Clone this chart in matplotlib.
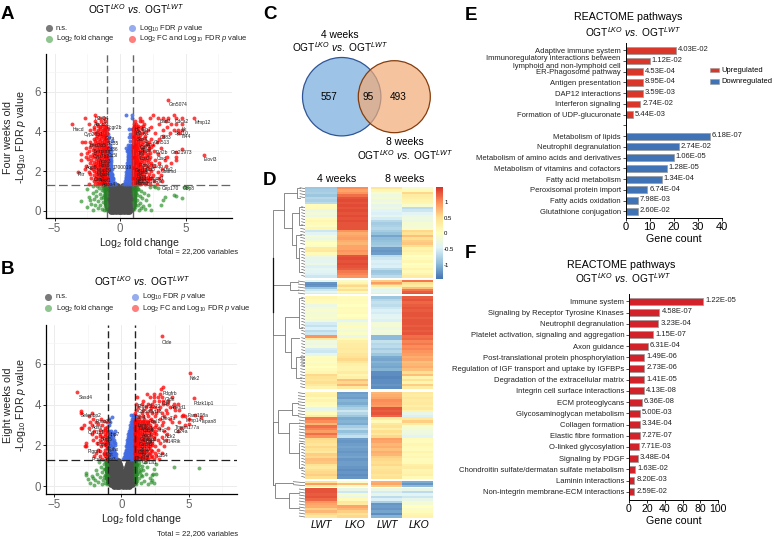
import numpy as np
import matplotlib
matplotlib.use('Agg')
import matplotlib.pyplot as plt
from matplotlib.colors import LinearSegmentedColormap
from matplotlib.patches import Circle

plt.rcParams['font.family'] = ['Liberation Sans', 'DejaVu Sans']
plt.rcParams['mathtext.fontset'] = 'custom'
plt.rcParams['mathtext.rm'] = 'Liberation Sans'
plt.rcParams['mathtext.it'] = 'Liberation Sans:italic'
plt.rcParams['mathtext.bf'] = 'Liberation Sans:bold'

W, H = 774, 539
OGT = r'OGT$^{\mathit{LKO}}$ $\mathit{vs.}$ OGT$^{\mathit{LWT}}$'

# --- volcano A (y levels, and the x of the points on each level)
a_grey_y = [0.0, 0.08, 0.2, 0.35, 0.5, 0.65, 0.8, 0.95, 1.1, 1.25]
a_grey_x = [[-.7, -.5, -.3, -.1, .1, .3, .5, .7],
            [-.85, -.6, -.35, -.15, .15, .35, .6, .85],
            [-.95, -.75, -.5, -.25, 0, .25, .5, .75, .95],
            [-.97, -.75, -.5, -.25, 0, .25, .5, .75, .97],
            [-.97, -.75, -.5, -.25, 0, .25, .5, .75, .97],
            [-.97, -.75, -.5, -.25, 0, .25, .5, .75, .97],
            [-.97, -.75, -.5, -.28, -.12, .12, .28, .5, .75, .97],
            [-.97, -.75, -.5, -.3, -.12, .12, .3, .5, .75, .97],
            [-.97, -.75, -.55, -.35, -.15, .15, .35, .55, .75, .97],
            [-.97, -.75, -.55, -.38, -.2, .2, .38, .55, .75, .97]]

a_blue_y = [1.35, 1.42, 1.5, 1.58, 1.65, 1.72, 1.8, 1.87, 1.95, 2.02, 2.1, 2.17, 2.25, 2.32, 2.4, 2.47, 2.55, 2.62, 2.7, 2.78,
            2.85, 2.92, 3.0, 3.07, 3.15, 3.22, 3.3, 3.5, 3.7, 3.85, 4.1, 4.65, 4.8]
a_blue_x = [[-.95, -.8, -.65, -.5, -.35, .33, .45, .6, .75, .9],
            [-.9, -.72, -.58, -.42, .36, .52, .68, .82, .97],
            [-.95, -.8, -.65, -.5, .38, .5, .65, .8, .95],
            [-.88, -.7, -.56, .42, .58, .72, .88],
            [-.95, -.8, -.68, -.55, .42, .55, .7, .85, .97],
            [-.85, -.72, -.6, .48, .62, .78, .92],
            [-.92, -.78, -.62, .45, .58, .72, .88],
            [-.97, -.7, -.58, .5, .65, .8, .95],
            [-.95, -.82, -.68, .48, .6, .75, .9],
            [-.88, -.74, .52, .68, .84, .98],
            [-.9, -.75, -.62, .5, .62, .78, .95],
            [-.96, -.68, .55, .7, .86],
            [-.95, -.8, -.68, .52, .65, .8, .93],
            [-.86, -.72, .58, .74, .9],
            [-.92, -.78, .55, .68, .82, .97],
            [-.84, -.68, .6, .76, .92],
            [-.95, -.8, -.66, .58, .7, .85, .95],
            [-.88, .62, .78, .92],
            [-.9, -.72, .58, .72, .88],
            [-.96, -.78, .64, .8, .95],
            [-.95, -.75, .6, .75, .9],
            [-.84, .66, .82, .96],
            [-.85, -.65, .5, .62, .78, .92],
            [-.92, .6, .74, .88],
            [-.92, -.7, .45, .65, .82],
            [-.82, .68, .9],
            [-.8, .6, .78, .95],
            [-.9, -.6, .8],
            [-.85, .7, .9],
            [-.95, .75],
            [-.9, .7, .95],
            [.95],
            [.48, .95]]

a_green = [(-3.0, .5), (-2.5, .2), (-2.4, .7), (-2.3, .55), (-2.2, .35), (-2.1, .05), (-2.05, .9), (-2.0, .6),
           (-1.9, .3), (-1.85, 1.0), (-1.8, .75), (-1.7, .15), (-1.65, .5), (-1.6, 1.15), (-1.55, .85), (-1.5, .3),
           (-1.45, .65), (-1.4, 1.05), (-1.35, .1), (-1.3, .45), (-1.25, .8), (-1.2, 1.2), (-1.15, .25), (-1.12, .6),
           (-1.08, .95), (-1.05, .4), (-1.04, .15), (-1.03, .75), (-1.02, 1.1), (-1.25, 1.0), (-1.15, .75), (-1.1, .5),
           (-2.5, 1.1), (-2.1, 1.25), (-1.75, 1.25), (-1.4, 1.25), (-1.1, 1.25), (-1.2, .05), (-1.1, .05),
           (-1.03, .3), (-1.05, .58), (-1.03, .9), (-1.05, 1.2), (-1.15, .4), (-1.18, .9), (-1.15, 1.1), (-1.3, .7), (-1.3, 1.15),
           (1.02, 1.2), (1.03, .9), (1.04, .6), (1.05, .3), (1.06, .1), (1.1, 1.1), (1.12, .75), (1.15, .45),
           (1.18, .2), (1.22, 1.2), (1.25, .9), (1.3, .55), (1.35, .3), (1.4, 1.1), (1.45, .05), (1.5, .75),
           (1.55, .4), (1.6, 1.0), (1.7, .65), (1.75, .25), (1.85, .9), (1.9, .1), (2.0, .55), (2.1, .8),
           (2.2, .3), (2.3, 1.2), (2.4, .05), (2.6, 1.25), (2.7, 1.2), (2.9, 1.15), (3.1, .3), (3.3, .55),
           (3.4, .7), (4.1, .8), (4.3, .75), (4.7, .65), (4.9, 1.2), (5.1, 1.2), (1.15, 1.0), (1.3, 1.25), (1.6, .15),
           (1.03, .45), (1.05, .75), (1.03, 1.05), (1.12, .3), (1.12, .9), (1.18, .6), (1.2, 1.05), (1.3, .8), (1.35, 1.1)]

a_red_y = [1.35, 1.5, 1.65, 1.8, 1.95, 2.1, 2.25, 2.4, 2.55, 2.7, 2.85, 3.0, 3.15, 3.3, 3.45, 3.6, 3.75, 3.9, 4.05, 4.2, 4.35, 4.5, 4.65, 4.8]
a_red_x = [[-2.4, -1.9, -1.6, -1.35, -1.15, -1.03, 1.05, 1.3, 1.55, 1.9, 2.3, 2.8],
           [-2.0, -1.75, -1.45, -1.2, -1.05, 1.05, 1.25, 1.45, 1.7, 2.1, 2.6, 3.2],
           [-2.2, -1.7, -1.4, -1.25, -1.1, 1.1, 1.35, 1.6, 1.95, 2.4, 3.0],
           [-1.95, -1.6, -1.4, -1.2, -1.05, 1.05, 1.2, 1.5, 1.8, 2.5, 3.1],
           [-3.2, -2.4, -1.8, -1.5, -1.25, -1.05, 1.1, 1.3, 1.65, 2.0, 2.9],
           [-2.7, -2.1, -1.7, -1.4, -1.15, -1.03, 1.05, 1.25, 1.5, 1.85, 2.3, 3.2],
           [-2.6, -1.9, -1.6, -1.3, -1.1, 1.1, 1.35, 1.6, 2.1, 2.6, 3.5],
           [-2.3, -1.8, -1.5, -1.2, -1.05, 1.05, 1.2, 1.45, 1.8, 2.4, 3.0, 3.9],
           [-3.0, -2.2, -1.7, -1.4, -1.1, 1.1, 1.3, 1.65, 2.0, 2.7, 3.4, 4.3],
           [-2.6, -2.1, -1.6, -1.3, -1.05, 1.05, 1.25, 1.5, 1.9, 2.3, 3.6],
           [-3.0, -2.1, -1.75, -1.45, -1.15, 1.1, 1.35, 1.7, 2.1, 2.9],
           [-2.4, -1.9, -1.5, -1.2, -1.03, 1.03, 1.2, 1.5, 1.85, 2.6],
           [-2.6, -2.0, -1.6, -1.3, -1.1, 1.1, 1.3, 1.65, 2.2, 3.1],
           [-2.2, -1.8, -1.45, -1.15, 1.05, 1.25, 1.5, 1.95, 2.5],
           [-2.9, -2.7, -2.3, -1.75, -1.35, -1.1, 1.1, 1.4, 1.75, 2.2, 2.8],
           [-1.95, -1.6, -1.25, -1.05, 1.05, 1.3, 1.6, 2.4, 3.0],
           [-1.75, -1.4, -1.15, 1.1, 1.4, 1.9, 3.3],
           [-1.9, -1.5, -1.2, -1.03, 1.05, 1.25, 1.7, 2.7, 3.8, 4.5],
           [-2.3, -1.7, -1.3, -1.1, 1.1, 1.4, 2.1, 3.3, 4.1, 4.4, 4.75],
           [-2.0, -1.5, -1.15, 1.05, 1.3, 1.6, 2.4, 3.6],
           [-3.7, -2.4, -1.75, -1.3, 1.05, 1.2, 1.85, 3.0, 3.9, 4.25, 4.7],
           [-1.9, -1.45, -1.15, 1.15, 1.5, 1.7, 3.5],
           [-2.7, -1.5, -1.2, 1.5, 2.3, 2.9, 3.3, 3.7, 4.3, 4.75, 5.65],
           [-1.9, 2.5, 4.1]]
a_red2_y = [1.42, 1.58, 1.72, 1.87, 2.02, 2.17, 2.32, 2.47, 2.62, 2.78, 2.92, 3.07, 3.22, 3.38, 3.52, 3.67, 3.82, 3.97, 4.12, 4.28]
a_red2_x = [[-1.7, -1.48, -1.28, -1.12, -1.02, 1.02, 1.15, 1.32, 1.48, 1.68, 2.0],
            [-1.9, -1.55, -1.32, -1.15, -1.02, 1.02, 1.18, 1.38, 1.58, 1.82, 2.25],
            [-1.82, -1.52, -1.3, -1.12, -1.02, 1.03, 1.2, 1.42, 1.72, 2.1],
            [-2.3, -1.72, -1.48, -1.28, -1.12, 1.02, 1.14, 1.34, 1.62, 2.2],
            [-1.95, -1.6, -1.38, -1.15, -1.02, 1.02, 1.2, 1.48, 1.78, 2.4],
            [-2.2, -1.85, -1.55, -1.25, -1.08, 1.03, 1.16, 1.4, 1.68, 2.05],
            [-2.1, -1.75, -1.42, -1.2, -1.03, 1.02, 1.22, 1.48, 1.88, 2.4],
            [-2.0, -1.65, -1.35, -1.12, -1.02, 1.03, 1.15, 1.35, 1.62, 2.1],
            [-2.45, -1.85, -1.55, -1.25, -1.03, 1.02, 1.2, 1.45, 1.8, 2.2],
            [-2.3, -1.85, -1.48, -1.18, -1.02, 1.02, 1.15, 1.4, 1.7, 2.05],
            [-2.5, -1.9, -1.6, -1.28, -1.05, 1.03, 1.22, 1.55, 1.9, 2.3],
            [-2.1, -1.7, -1.38, -1.12, -1.02, 1.02, 1.12, 1.38, 1.7, 2.1],
            [-2.3, -1.78, -1.45, -1.2, -1.03, 1.03, 1.2, 1.45, 1.8, 2.4],
            [-1.98, -1.62, -1.3, -1.1, 1.02, 1.15, 1.38, 1.7, 2.1],
            [-1.9, -1.5, -1.22, -1.03, 1.03, 1.22, 1.55, 1.95],
            [-1.85, -1.45, -1.15, 1.02, 1.18, 1.45, 1.8],
            [-1.6, -1.28, -1.05, 1.03, 1.25, 1.55],
            [-1.75, -1.35, -1.1, 1.02, 1.15, 1.45, 1.9],
            [-1.95, -1.55, -1.22, -1.03, 1.03, 1.22, 1.65],
            [-1.65, -1.38, -1.08, 1.05, 1.35, 1.78]]
a_red_pts = [(3.64, 5.58), (6.4, 2.8), (4.7, 3.1), (4.3, 2.7), (4.3, 2.95)]

a_labels = [('Gm5074', 3.7, 5.35), ('Mmp12', 5.7, 4.45), ('Elovl3', 6.4, 2.58), ('Hacd', -3.6, 4.1), ('Pltr', -3.2, 1.8),
            ('Cdca2', 4.2, 4.5), ('Batf3', 3.0, 4.5), ('Itk', 4.7, 4.1), ('Sp110', 4.2, 3.9), ('Ifi44', 4.7, 3.75),
            ('Cd83', 3.0, 3.7), ('Gm21973', 3.9, 2.95), ('Evi2b', 2.75, 2.95), ('Gm513', 2.6, 3.45), ('Ctsd', 2.8, 2.65),
            ('Lrp2', 3.3, 2.1), ('Gsdmd', 3.1, 1.95), ('Cep170', 3.2, 1.1), ('Gbp8', 4.8, 1.1), ('Cyp26b1', -2.75, 3.85),
            ('Abcc3', -2.0, 4.35), ('H2-Q4', -1.9, 4.65), ('Slc35', -1.0, 3.4), ('Cd36', -1.0, 3.1), ('Acot3', -1.6, 2.5),
            ('Rps6', -1.6, 2.3), ('Aqp8', -2.6, 2.2), ('Mgat4', -1.8, 1.8), ('Acot1', -1.6, 1.5), ('Sox4', 1.3, 3.6),
            ('Cd74', 1.5, 3.2), ('Ptprc', 1.4, 2.3), ('Saa3', 1.3, 1.9), ('Cd44', 1.2, 1.55), ('Tnf', 1.4, 2.9),
            ('H2-Eb1', 1.1, 4.1), ('1700019', -.6, 2.2), ('Rbm3', 1.2, 1.35), ('Hmox1', 2.2, 1.6), ('Fcgr2b', -1.0, 4.2),
            ('Hsd3b5', -2.3, 3.3), ('Serpina', -2.0, 3.0), ('Cyp7b1', -2.1, 2.75), ('Mup19', -1.8, 2.05), ('Ces1', -2.0, 1.55),
            ('H2-K1', 1.2, 3.9), ('Sirpa', 1.6, 3.05), ('Lcn2', 1.5, 2.65), ('Ccl5', 2.0, 2.1), ('B2m', 1.3, 1.7),
            ('Gm10', 1.1, 2.05), ('Apoa4', -1.4, 1.3), ('Cd5l', -.9, 2.8), ('Gsta', -1.2, 3.65), ('Tap1', 1.9, 3.35),
            ('1110C19Rik', 1.3, 1.45), ('C1qb', 2.4, 2.25)]

# --- volcano B
b_grey_y = [0.0, 0.1, 0.22, 0.38, 0.52, 0.68, 0.82, 0.96, 1.1, 1.23]
b_grey_x = [[-.55, -.35, -.15, .15, .35, .55],
            [-.8, -.55, -.3, -.1, .15, .35, .6, .8],
            [-.95, -.72, -.5, -.25, 0, .25, .5, .72, .95],
            [-.97, -.75, -.5, -.25, 0, .25, .5, .75, .97],
            [-.97, -.75, -.5, -.25, 0, .25, .5, .75, .97],
            [-.97, -.75, -.5, -.25, -.05, .3, .5, .75, .97],
            [-.97, -.75, -.5, -.3, -.1, .38, .55, .75, .97],
            [-.97, -.75, -.55, -.35, -.12, .45, .6, .78, .97],
            [-.97, -.75, -.55, -.4, -.18, .5, .65, .8, .97],
            [-.97, -.75, -.6, -.45, -.22, .55, .7, .85, .97]]

b_blue_y = [1.35, 1.42, 1.5, 1.58, 1.65, 1.72, 1.8, 1.87, 1.95, 2.02, 2.1, 2.17, 2.25, 2.32, 2.4, 2.47, 2.55, 2.62, 2.7, 2.78,
            2.85, 2.92, 3.0, 3.07, 3.15, 3.22, 3.3, 3.4, 3.5]
b_blue_x = [[-.95, -.8, -.65, -.5, .15, .3, .45, .6, .75, .9],
            [-.85, -.6, -.38, .2, .36, .52, .68, .82, .97],
            [-.9, -.72, -.55, .25, .4, .55, .7, .85, .97],
            [-.95, -.62, -.42, .3, .46, .62, .78, .92],
            [-.95, -.78, -.62, -.45, .28, .42, .58, .72, .88],
            [-.84, -.55, .34, .5, .66, .82, .97],
            [-.88, -.7, -.52, .35, .48, .62, .78, .92],
            [-.96, -.6, .4, .56, .72, .88],
            [-.92, -.75, -.6, .38, .52, .68, .82, .97],
            [-.82, -.5, .44, .6, .76, .92],
            [-.85, -.65, -.5, .42, .55, .7, .85],
            [-.9, -.58, .48, .64, .8, .96],
            [-.95, -.7, -.55, .45, .6, .75, .9],
            [-.8, .52, .68, .84, .98],
            [-.8, -.62, .5, .62, .78, .95],
            [-.95, .58, .72, .88],
            [-.9, -.55, .52, .68, .82],
            [-.72, .6, .76, .92],
            [-.75, -.45, -.95, .6, .72, .88],
            [.66, .82, .96],
            [.62, .78, .92],
            [.7, .86],
            [-.9, .68, .82, .97],
            [.76, .9],
            [-.85, .72, .88],
            [.8, .94],
            [-.95, .8, .95],
            [-.7, .9],
            [.75, .9, 1.0]]

b_green = [(-2.6, .65), (-2.6, .55), (-2.5, .35), (-2.3, .15), (-2.2, .5), (-2.1, .42), (-2.05, .05), (-1.95, .3),
           (-1.9, .8), (-1.8, .62), (-1.7, .2), (-1.65, 1.2), (-1.6, .45), (-1.5, .95), (-1.45, .12), (-1.4, .7),
           (-1.35, .3), (-1.3, 1.1), (-1.25, .55), (-1.2, .85), (-1.18, .18), (-1.15, .4), (-1.1, 1.0), (-1.08, .68),
           (-1.05, 1.2), (-1.04, .25), (-1.03, .85), (-1.02, .5), (-1.2, 1.25), (-1.1, .1),
           (-1.03, 1.05), (-1.05, .7), (-1.03, .38), (-1.12, .55), (-1.15, .85), (-1.12, 1.15), (-1.3, .85), (-1.3, .45),
           (1.02, .3), (1.03, .6), (1.03, .9), (1.04, 1.2), (1.06, .12), (1.1, .45), (1.12, .75), (1.15, 1.05),
           (1.18, .25), (1.2, .58), (1.25, .9), (1.3, 1.2), (1.35, .38), (1.4, .7), (1.45, .15), (1.5, 1.0),
           (1.55, .5), (1.6, .8), (1.7, .25), (1.75, 1.2), (1.8, .6), (1.9, .95), (2.0, .1), (2.1, .4),
           (2.2, .2), (2.25, .3), (2.3, .55), (2.35, .62), (2.4, .18), (2.45, .85), (2.55, .6), (2.6, 1.1),
           (3.9, .93), (5.75, .87), (1.03, .45), (1.05, .75), (1.03, 1.05), (1.12, .3), (1.12, .9), (1.18, .6), (1.2, 1.1),
           (1.3, .75), (1.32, 1.05), (1.45, .85), (1.45, .55)]

b_red_y = [1.35, 1.5, 1.65, 1.8, 1.95, 2.1, 2.25, 2.4, 2.55, 2.7, 2.85, 3.0, 3.15, 3.3, 3.45, 3.6, 3.75, 3.9, 4.05, 4.2, 4.35, 4.5]
b_red_x = [[-1.4, -1.1, 1.05, 1.25, 1.5, 1.75, 2.0, 2.4, 2.8],
           [-2.0, -1.6, -1.2, 1.1, 1.35, 1.6, 1.9, 2.3, 2.6],
           [-1.9, -1.3, -1.05, 1.05, 1.25, 1.45, 1.7, 2.1, 2.5, 3.0],
           [-1.7, -1.2, 1.1, 1.3, 1.55, 1.85, 2.2, 2.7],
           [-2.7, -2.6, -1.5, -1.1, 1.05, 1.25, 1.5, 1.8, 2.1, 2.5, 3.2],
           [-2.6, -1.8, -1.3, -1.05, 1.1, 1.35, 1.6, 1.95, 2.3, 2.9],
           [-2.1, -1.55, -1.2, 1.05, 1.25, 1.5, 1.75, 2.15, 2.7, 3.3],
           [-1.9, -1.4, -1.1, 1.1, 1.35, 1.65, 2.0, 2.4, 3.0],
           [-2.2, -1.6, -1.2, 1.05, 1.3, 1.55, 1.85, 2.2, 2.6, 3.4],
           [-2.0, -1.35, -1.05, 1.1, 1.25, 1.5, 1.8, 2.1, 2.5, 3.2, 4.2],
           [-3.0, -2.9, -2.4, -1.2, 1.05, 1.35, 1.6, 1.9, 2.3, 2.8, 3.5, 4.4],
           [-2.8, -2.2, -1.4, 1.1, 1.3, 1.55, 1.8, 2.15, 2.6, 3.0, 4.7],
           [-2.3, -1.9, -1.1, 1.05, 1.25, 1.5, 1.75, 2.0, 2.4, 3.1, 3.8, 4.3],
           [-2.1, -1.5, 1.1, 1.35, 1.7, 2.2, 2.9, 3.6, 5.0],
           [-2.4, 1.3, 1.6, 2.0, 2.5, 3.2, 4.0, 4.5, 4.7],
           [-2.2, -3.0, 1.05, 1.5, 1.9, 2.3, 2.6, 3.4, 3.0],
           [1.1, 1.6, 2.1, 2.7, 3.3, 4.0, 4.3],
           [1.25, 1.8, 2.2, 2.5, 2.9, 3.6, 3.9],
           [1.1, 1.5, 2.0, 2.3, 3.1, 3.4, 3.9, 4.2],
           [1.6, 2.4, 2.8, 3.1, 3.5],
           [1.2, 2.1, 2.7, 2.4, 3.0, 3.8],
           [1.9, 2.4, 2.9]]
b_red2_y = [1.42, 1.58, 1.72, 1.87, 2.02, 2.17, 2.32, 2.47, 2.62, 2.78, 2.92, 3.07, 3.22]
b_red2_x = [[-1.03, 1.02, 1.15, 1.38, 1.62, 1.88, 2.2],
            [-1.3, -1.05, 1.02, 1.18, 1.42, 1.72, 2.05],
            [-1.6, 1.03, 1.2, 1.38, 1.6, 1.9, 2.3],
            [-1.05, 1.02, 1.14, 1.42, 1.7, 2.05],
            [-1.25, 1.02, 1.18, 1.4, 1.68, 1.95, 2.3],
            [-1.5, -1.03, 1.03, 1.22, 1.48, 1.78, 2.12],
            [-1.08, 1.02, 1.15, 1.38, 1.62, 1.98, 2.45],
            [-1.62, -1.25, 1.03, 1.22, 1.5, 1.82, 2.2],
            [-1.03, 1.02, 1.18, 1.42, 1.7, 2.05, 2.4],
            [-1.2, -1.55, 1.03, 1.15, 1.38, 1.65, 1.95, 2.3],
            [-1.05, 1.02, 1.22, 1.48, 1.78, 2.12, 2.5],
            [-1.7, 1.03, 1.18, 1.42, 1.68, 1.98],
            [-1.3, 1.02, 1.15, 1.38, 1.62, 1.9, 2.25]]
b_red_pts = [(3.0, 7.34), (5.07, 5.53), (5.37, 4.3), (5.89, 3.4), (3.09, 4.87), (2.96, 4.78), (-3.3, 4.6),
             (-3.03, 3.7), (5.5, 3.5), (5.0, 3.05), (4.6, 3.5)]

b_labels = [('Olde', 3.0, 7.05), ('Nrk2', 5.07, 5.28), ('Pdzk1ip1', 5.4, 4.05), ('Tspan8', 5.9, 3.15), ('Pdgfrb', 3.1, 4.55),
            ('Sasd4', -3.2, 4.35), ('Selenbp2', -3.0, 3.45), ('Cyp1b1', -2.5, 2.65), ('Adss', -2.2, 2.9), ('Fbxo31', -1.9, 3.15),
            ('Tmem177a', 4.0, 2.9), ('Cd24a', 3.9, 2.7), ('Dlec7a', 2.9, 3.3), ('Mmp14', 4.8, 3.2), ('Fam108a', 4.9, 3.45),
            ('Ankrd1', 3.7, 3.85), ('Gldn', 3.2, 4.25), ('Cd4', 3.0, 4.05), ('Ly22', 2.2, 3.9), ('Cd54', 2.6, 1.5),
            ('Tril14Rik', 3.0, 2.2), ('Gatm2', 1.3, 2.05), ('Ggnbp2', 1.4, 2.3), ('Apol', 1.5, 2.5), ('Cd34', 1.6, 2.75),
            ('Lsmc', 1.2, 3.0), ('Nck2', 3.2, 2.45), ('Fosl1', 2.0, 3.15), ('2610', 1.4, 1.8), ('Col1a1', 1.5, 1.15),
            ('Fos', 1.5, 1.5), ('Pcsk', -2.2, 1.3), ('Pigm1', -2.5, 1.7), ('Enpp4', -1.8, 2.05), ('Ephx', -1.0, 1.8),
            ('Ugt', -1.2, 1.55), ('Sfrp5', -1.5, 2.3), ('Mpp7', -1.0, 2.55), ('Ras4', 1.0, 3.35), ('Syt13', 2.1, 3.65),
            ('Ptger3', 1.2, 3.9), ('Lamc1', 1.3, 2.85), ('Cdh2', 1.2, 1.65), ('Mrc2', 2.6, 2.75), ('Bgn', 1.8, 2.2),
            ('Thbs2', 1.1, 1.35), ('Acot3', -1.3, 1.3), ('Col5a', 1.2, 3.65)]

# --- heatmap, rows of [LWT 4w, LKO 4w, LWT 8w, LKO 8w]
heat_block1 = [[-.9, 1.0, .4, -.1], [-.85, .85, .15, .1], [-.8, .95, -.1, .55], [-.9, 1.15, -.25, .3], [-.75, 1.3, -.15, .25],
               [-.8, 1.35, -.3, .2], [-.7, 1.3, -.2, .15], [.05, 1.35, -.35, -.1], [.1, 1.3, -.3, -.7], [-.3, 1.35, -.45, -.6],
               [-.2, 1.3, -.5, -.45], [-.3, 1.35, -.4, -.3], [.05, 1.3, -.55, -.25], [.15, 1.35, -.75, -.3], [.1, 1.3, -.85, -.15],
               [-.05, 1.3, -.8, -.2], [.15, 1.3, -.75, -.1], [-.6, .95, -.85, .55], [-.45, .8, -.95, .45], [-.2, .85, -1.15, .7],
               [-.3, .9, -1.0, .5], [-.15, .8, -.95, .6], [0, .75, -.9, .65], [-.05, .85, -.85, .5], [.3, .85, -1.2, .2],
               [.35, .95, -1.25, .25], [.1, .9, -1.2, .15], [-.3, 1.3, -.7, .0], [-.35, 1.35, -.6, .05], [-.4, 1.3, -.5, .15],
               [-.3, 1.35, -.55, .0], [-.5, 1.3, -.5, .05], [-.4, 1.25, -.7, .2], [-.45, 1.1, -.9, .1], [-.5, 1.05, -.85, .2],
               [-.6, .95, -.7, .3]]
heat_block2 = [[-.4, -.1, .6, 1.1], [-1.25, .15, .9, .5], [-1.3, .4, .7, .4], [-1.25, .55, .3, .3],
               [-.9, .25, -.25, .7], [-.6, .5, -.45, 1.1], [-.4, .1, -.35, 1.25], [-.55, .25, -.5, 1.3]]
heat_block3 = [[.15, .05, -.9, 1.25], [.1, .1, -.75, 1.3], [.05, .05, -.65, 1.2], [-.3, .0, -.7, 1.25], [-.2, .1, -.6, 1.3],
               [-.1, .05, -.5, 1.25], [-.2, .1, -.55, 1.3], [-.15, .0, -.45, 1.3], [-.1, .05, -.4, 1.25], [-.25, -.4, -.5, 1.3],
               [-.55, -.15, -.2, 1.3], [-.65, .05, -.15, 1.25], [-.5, -.1, -.3, 1.3], [-.7, -.2, -.2, 1.25], [-.6, -.05, -.25, 1.3],
               [.95, -.3, -1.0, 1.15], [.35, .1, -1.0, 1.2], [-.25, .25, -.65, 1.05], [-.3, .3, -.75, 1.1], [-.2, .3, -.7, 1.0],
               [-.55, .35, -.85, 1.05], [-.6, .3, -.75, .95], [-.4, .4, -.9, .9], [-.05, .45, -1.1, .8], [.05, .55, -1.15, .85],
               [-.05, .4, -1.05, .7], [.1, .25, -1.1, .75], [.0, .2, -1.15, .8], [.1, .2, -1.05, .7], [.15, .3, -1.3, .5],
               [.55, .15, -1.3, .7], [.45, .25, -1.35, .2], [.4, .7, -1.3, .45], [.5, .55, -1.3, .15], [.35, .75, -1.25, .6],
               [.2, .35, -1.3, .3]]
heat_block4 = [[.2, -1.2, .75, .35], [.25, -1.15, .8, .3], [.1, -1.2, .85, .4], [.2, -1.05, 1.0, .3], [.1, -1.1, .95, .35],
               [-.05, -.95, .9, .25], [-.4, -.8, 1.3, .35], [-.3, -.6, 1.25, .2], [.05, -.75, 1.3, -.35], [.3, -.9, 1.2, -.5],
               [1.1, -1.1, .3, .35], [1.0, -1.05, .1, .6], [.75, -1.1, .35, .3], [1.15, -.85, .45, -.1], [1.05, -.7, .25, -.15],
               [.9, -.95, .5, -.25], [1.15, -.8, .35, -.3], [.95, -.65, .55, -.45], [.55, -1.2, .9, .1], [.5, -1.25, .85, .05],
               [.4, -1.2, .75, .15], [.55, -1.15, .8, .1], [.45, -1.2, .7, .05], [.35, -1.25, .8, .2], [.6, -1.2, .75, .1],
               [.55, -1.15, .6, .15], [.7, -1.25, .55, .05], [.65, -1.2, .5, .1], [.45, -1.2, .55, .25], [.35, -1.25, .4, .3],
               [.5, -1.3, .45, .15], [.55, -1.25, .5, .2], [.6, -1.3, .4, .25], [.5, -1.25, .45, .1]]
heat_block5 = [[.45, -.05, .8, -1.1], [.9, .7, .85, -1.25], [.3, -.1, .6, -1.0]]
heat_block6 = [[1.3, -.35, -.3, -.35], [1.3, -.6, -.55, -.7], [1.25, -.15, -.35, -.45], [1.3, -.3, -.7, -.6],
               [1.2, .1, -.5, -.35], [.95, .35, -.8, -.15], [.85, .3, -1.25, -.2], [.8, .85, -1.2, .0],
               [.6, .75, -1.25, -.1], [.75, .6, -1.15, .05], [.55, .45, -1.3, .15], [.4, .55, -1.05, .2]]
heat_blocks = [heat_block1, heat_block2, heat_block3, heat_block4, heat_block5, heat_block6]
heat_cols = ['LWT', 'LKO', 'LWT', 'LKO']
heat_ticks = [1, .5, 0, -.5, -1]
heat_ticklabels = ['1', '0.5', '0', '-0.5', '-1']

# --- dendrogram merges (height, row a, height a, row b, height b)
dendro_merges = [(40, 135, 72, 510, 75), (40, 510, 40, 960, 45), (40, 360, 90, 510, 40), (40, 770, 55, 960, 40),
                 (72, 85, 110, 190, 95), (110, 68, 120, 100, 120), (95, 145, 118, 240, 108), (118, 125, 125, 180, 125),
                 (108, 210, 122, 280, 118), (118, 250, 125, 320, 125),
                 (90, 350, 115, 375, 115),
                 (75, 455, 118, 560, 92), (118, 400, 125, 490, 125), (92, 518, 118, 610, 108), (108, 575, 122, 640, 122),
                 (55, 735, 95, 805, 88), (95, 715, 115, 750, 115), (88, 775, 118, 865, 118), (118, 835, 125, 910, 125),
                 (45, 955, 100, 1000, 88), (88, 985, 118, 1030, 118)]
dendro_fans = [(120, 68, 100), (125, 125, 180), (122, 190, 240), (125, 250, 335), (115, 348, 385), (125, 397, 510),
               (125, 518, 600), (122, 575, 670), (115, 683, 755), (118, 765, 830), (125, 835, 940), (100, 950, 964),
               (118, 972, 1055)]

# --- venn
venn_counts = [557, 95, 493]

# --- pathway bars
e_terms = ['Adaptive immune system', 'Immunoregulatory interactions between\nlymphoid and non-lymphoid cell',
           'ER-Phagosome pathway', 'Antigen presentation', 'DAP12 interactions', 'Interferon signaling',
           'Formation of UDP-glucuronate', '', 'Metabolism of lipids', 'Neutrophil degranulation',
           'Metabolism of amino acids and derivatives', 'Metabolism of vitamins and cofactors', 'Fatty acid metabolism',
           'Peroxisomal protein import', 'Fatty acids oxidation', 'Glutathione conjugation']
e_counts = [21, 10, 7, 7, 7, 6, 3, 0, 35, 22, 20, 17, 15, 9, 5, 5]
e_pvals = ['4.03E-02', '1.12E-02', '4.53E-04', '8.95E-04', '3.59E-03', '2.74E-02', '5.44E-03', '', '6.18E-07',
           '2.74E-02', '1.06E-05', '1.28E-05', '1.34E-04', '6.74E-04', '7.98E-03', '2.60E-02']
f_terms = ['Immune system', 'Signaling by Receptor Tyrosine Kinases', 'Neutrophil degranulation',
           'Platelet activation, signaling and aggregation', 'Axon guidance', 'Post-translational protein phosphorylation',
           'Regulation of IGF transport and uptake by IGFBPs', 'Degradation of the extracellular matrix',
           'Integrin cell surface interactions', 'ECM proteoglycans', 'Glycosaminoglycan metabolism', 'Collagen formation',
           'Elastic fibre formation', 'O-linked glycosylation', 'Signaling by PDGF',
           'Chondroitin sulfate/dermatan sulfate metabolism', 'Laminin interactions', 'Non-integrin membrane-ECM interactions']
f_counts = [83, 34, 33, 27, 21, 17, 17, 17, 17, 14, 12, 12, 12, 11, 10, 7, 6, 6]
f_pvals = ['1.22E-05', '4.58E-07', '3.23E-04', '1.15E-07', '6.31E-04', '1.49E-06', '2.73E-06', '1.41E-05', '4.13E-08',
           '6.36E-08', '5.00E-03', '3.34E-04', '7.27E-07', '7.71E-03', '3.48E-04', '1.63E-02', '8.20E-03', '2.59E-02']


def px_axes(left, top, right, bottom):
    return fig.add_axes([left/W, 1-bottom/H, (right-left)/W, (bottom-top)/H])


def spread(levels, xs):
    px, py = [], []
    for y, row in zip(levels, xs):
        px += list(row)
        py += [y]*len(row)
    return px, py


def volcano(ax, grey, green, blue, red, labels, xlim, ylim, dash_col):
    ax.set_xlim(*xlim)
    ax.set_ylim(*ylim)
    ax.set_xticks([-5, 0, 5])
    ax.set_yticks([0, 2, 4, 6])
    ax.set_xticks([-2.5, 2.5, 7.5], minor=True)
    ax.set_yticks([1, 3, 5, 7], minor=True)
    ax.grid(True, which='major', color='#ececec', lw=0.7)
    ax.grid(True, which='minor', color='#f4f4f4', lw=0.5)
    ax.set_axisbelow(True)
    ax.tick_params(which='minor', length=0)
    ax.tick_params(which='major', labelsize=8.3, labelcolor='#666666', length=2, width=0.6, pad=1.5)
    for s in ['top', 'right']:
        ax.spines[s].set_visible(False)
    for s in ['left', 'bottom']:
        ax.spines[s].set_linewidth(0.9)
    ax.scatter(*grey, s=24, color='#4d4d4d', lw=0, zorder=2)
    ax.scatter(*green, s=8, color='#228b22', alpha=0.65, lw=0, zorder=3)
    ax.scatter(*blue, s=8, color='#4169e1', alpha=0.85, lw=0, zorder=3)
    ax.scatter(*red, s=8, color='#ff0000', alpha=0.75, lw=0, zorder=4)
    ax.axvline(-1, color=dash_col, ls=(0, (5, 2.5)), lw=1, zorder=5)
    ax.axvline(1, color=dash_col, ls=(0, (5, 2.5)), lw=1, zorder=5)
    ax.axhline(1.3, color=dash_col, ls=(0, (7, 3)), lw=0.9, zorder=5)
    for name, x, y in labels:
        ax.text(x, y, name, fontsize=3.5, color='#222222', ha='left', va='center', zorder=6)
    ax.set_xlabel(r'Log$_2$ fold change', fontsize=7.6, labelpad=0.5, color='#222222')


def volcano_legend(xl, xr, y1, y2, text_l, text_r):
    c.scatter([xl], [y1], s=26, color='#4d4d4d', alpha=0.75, lw=0)
    c.scatter([xl], [y2], s=26, color='#228b22', alpha=0.5, lw=0)
    c.scatter([xr], [y1], s=26, color='#4169e1', alpha=0.55, lw=0)
    c.scatter([xr], [y2], s=26, color='#ff0000', alpha=0.5, lw=0)
    kw = dict(fontsize=5.4, va='center', color='#222222')
    c.text(text_l, y1, 'n.s.', **kw)
    c.text(text_l, y2, r'Log$_2$ fold change', **kw)
    c.text(text_r, y1, r'Log$_{10}$ FDR $\mathit{p}$ value', **kw)
    c.text(text_r, y2, r'Log$_2$ FC and Log$_{10}$ FDR $\mathit{p}$ value', **kw)


def bars(ax, terms, counts, pvals, colors, xmax, xticks, ylim, edge, ticksize):
    pos = np.arange(len(counts))
    ax.barh(pos, counts, height=0.64, color=colors, edgecolor=edge, lw=0.5)
    ax.set_ylim(*ylim)
    ax.set_xlim(0, xmax)
    ax.set_xticks(xticks)
    ax.set_yticks(pos)
    ax.set_yticklabels(terms, fontsize=5.5, color='#222222', linespacing=1.12)
    ax.tick_params(axis='y', length=2.5, width=0.6, pad=1, color='#333333')
    ax.tick_params(axis='x', length=2.5, width=0.6, pad=0.5, labelsize=ticksize)
    for s in ['top', 'right']:
        ax.spines[s].set_visible(False)
    for s in ['left', 'bottom']:
        ax.spines[s].set_linewidth(0.7)
    for p, n, lab in zip(pos, counts, pvals):
        ax.annotate(lab, (n, p), xytext=(1.5, 0.5), textcoords='offset points', fontsize=5.5, va='center', color='#222222')
    ax.set_xlabel('Gene count', fontsize=7.7, labelpad=1)


fig = plt.figure(figsize=(W/100, H/100), dpi=100)

# whole figure canvas in pixels, for the venn, heatmap and free text
c = fig.add_axes([0, 0, 1, 1], zorder=5)
c.set_xlim(0, W)
c.set_ylim(H, 0)
c.axis('off')
c.patch.set_alpha(0)

for letter, x, y in [('A', 1, 19), ('B', 1, 274), ('C', 263, 19), ('D', 263, 185), ('E', 465, 20), ('F', 465, 258)]:
    c.text(x, y, letter, fontsize=13.5, fontweight='bold', va='baseline', ha='left')

# A
ax_a = px_axes(46, 54, 232, 218)
a_rx = spread(a_red_y, a_red_x)[0] + spread(a_red2_y, a_red2_x)[0] + [p[0] for p in a_red_pts]
a_ry = spread(a_red_y, a_red_x)[1] + spread(a_red2_y, a_red2_x)[1] + [p[1] for p in a_red_pts]
volcano(ax_a, spread(a_grey_y, a_grey_x), tuple(zip(*a_green)), spread(a_blue_y, a_blue_x), (a_rx, a_ry),
        a_labels, (-5.65, 8.55), (-.37, 7.9), '#666666')
c.text(136, 9, OGT, fontsize=7.3, ha='center', va='center')
volcano_legend(49, 132, 28, 39, 56, 139)
c.text(8, 137, 'Four weeks old', fontsize=7.7, rotation=90, ha='center', va='center', color='#222222')
c.text(21, 137, r'-Log$_{10}$ FDR $\mathit{p}$ value', fontsize=7.7, rotation=90, ha='center', va='center', color='#222222')
c.text(238, 252, 'Total = 22,206 variables', fontsize=5.5, ha='right', va='center', color='#222222')

# B
ax_b = px_axes(46, 325, 237, 494)
b_rx = spread(b_red_y, b_red_x)[0] + spread(b_red2_y, b_red2_x)[0] + [p[0] for p in b_red_pts]
b_ry = spread(b_red_y, b_red_x)[1] + spread(b_red2_y, b_red2_x)[1] + [p[1] for p in b_red_pts]
volcano(ax_b, spread(b_grey_y, b_grey_x), tuple(zip(*b_green)), spread(b_blue_y, b_blue_x), (b_rx, b_ry),
        b_labels, (-5.6, 8.6), (-.38, 7.9), '#222222')
c.text(142, 281, OGT, fontsize=7.3, ha='center', va='center')
volcano_legend(48, 135, 297, 308, 56, 142)
c.text(8, 405, 'Eight weeks old', fontsize=7.7, rotation=90, ha='center', va='center', color='#222222')
c.text(21, 405, r'-Log$_{10}$ FDR $\mathit{p}$ value', fontsize=7.7, rotation=90, ha='center', va='center', color='#222222')
c.text(238, 534, 'Total = 22,206 variables', fontsize=5.5, ha='right', va='center', color='#222222')

# C
c.add_patch(Circle((341.7, 96.7), 39.2, fc='#9dc3e6', ec='#2f5597', lw=0.9))
c.add_patch(Circle((394.3, 96.7), 36, fc='#f1ac77', ec='none', alpha=0.7))
c.add_patch(Circle((394.3, 96.7), 36, fc='none', ec='#843c0c', lw=0.9))
c.text(340, 35, '4 weeks', fontsize=7.4, ha='center', va='center')
c.text(340, 47, OGT, fontsize=7.3, ha='center', va='center')
c.text(405, 142, '8 weeks', fontsize=7.4, ha='center', va='center')
c.text(405, 155, OGT, fontsize=7.3, ha='center', va='center')
for n, x in zip(venn_counts, [329, 368.5, 398]):
    c.text(x, 96.5, str(n), fontsize=7.2, ha='center', va='center')

# D
heat_cmap = LinearSegmentedColormap.from_list('rdylbu', ['#4575b4', '#91bfdb', '#e0f3f8', '#ffffbf', '#fee090', '#fc8d59', '#d73027'])
block_tops = [186.7, 280, 296.3, 391.7, 481, 488.3]
block_bots = [277.7, 294.3, 389, 479, 487, 517.7]
col_edges = [(305.3, 336.7), (336.7, 368.3), (370.7, 401.7), (401.7, 433)]
for data, t, b in zip(heat_blocks, block_tops, block_bots):
    data = np.array(data)
    ys = np.linspace(t, b, len(data)+1)
    for j, (x0, x1) in enumerate(col_edges):
        c.pcolormesh([x0, x1], ys, data[:, [j]], cmap=heat_cmap, vmin=-1.47, vmax=1.49, shading='flat', rasterized=True)
c.text(337, 179.5, '4 weeks', fontsize=7.7, ha='center', va='center')
c.text(405, 179.5, '8 weeks', fontsize=7.7, ha='center', va='center')
for name, x in zip(heat_cols, [321, 355, 387, 419]):
    c.text(x, 525.5, name, fontsize=7.5, style='italic', ha='center', va='center')

ax_cb = px_axes(435.7, 186.7, 442, 279.3)
ax_cb.imshow(np.linspace(1.49, -1.47, 120)[:, None], cmap=heat_cmap, vmin=-1.47, vmax=1.49, aspect='auto', extent=(0, 1, -1.47, 1.49))
ax_cb.set_xticks([])
ax_cb.yaxis.tick_right()
ax_cb.set_yticks(heat_ticks)
ax_cb.set_yticklabels(heat_ticklabels, fontsize=4.3)
ax_cb.tick_params(axis='y', length=0, pad=1.5)
for s in ax_cb.spines.values():
    s.set_visible(False)

ax_d = px_axes(260, 186.7, 305, 517.7)
ax_d.set_xlim(0, 135)
ax_d.set_ylim(1058, 65)
ax_d.axis('off')
for h, y1, h1, y2, h2 in dendro_merges:
    ax_d.plot([h1, h, h, h2], [y1, y1, y2, y2], color='#777777', lw=0.6, solid_joinstyle='miter')
ax_d.plot([40, 40], [280, 440], color='#111111', lw=0.9)
for h, y0, y1 in dendro_fans:
    for y in np.arange(y0, y1 + 1, 9):
        ax_d.plot([h, 135], [y, y + 3], color='#666666', lw=0.5)

# E
e_colors = ['#d9372a']*8 + ['#3f73b5']*8
ax_e = px_axes(625.7, 43.3, 721.7, 218.3)
bars(ax_e, e_terms, e_counts, e_pvals, e_colors, 40, [0, 10, 20, 30, 40], (15.65, -.65), '#999999', 8)
c.text(627.7, 16.5, 'REACTOME pathways', fontsize=7.7, ha='center', va='center')
c.text(632.7, 31.7, OGT, fontsize=7.3, ha='center', va='center')
c.barh([70, 81.7], [9, 9], left=710, height=4.5, color=['#d9372a', '#3f73b5'], edgecolor='#999999', lw=0.4)
c.text(721.7, 70, 'Upregulated', fontsize=5.4, va='center')
c.text(721.7, 81.7, 'Downregulated', fontsize=5.4, va='center')

# F
ax_f = px_axes(629, 294.3, 718.3, 500)
bars(ax_f, f_terms, f_counts, f_pvals, ['#d2232a']*18, 100, [0, 20, 40, 60, 80, 100], (17.74, -.625), '#999999', 7.6)
c.text(621, 265, 'REACTOME pathways', fontsize=7.7, ha='center', va='center')
c.text(623, 278.5, OGT, fontsize=7.3, ha='center', va='center')

fig.savefig('out.png', dpi=100)
